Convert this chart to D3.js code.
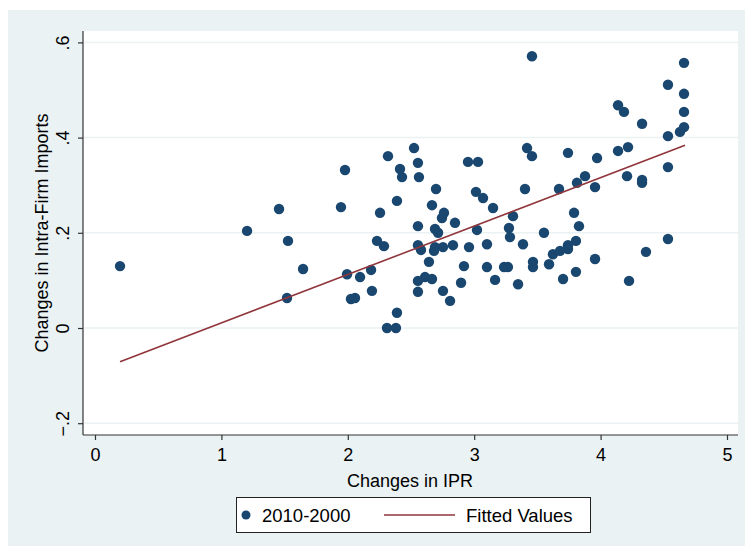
<!DOCTYPE html>
<meta charset="utf-8">
<script type="text/javascript" src="https://d3js.org/d3.v7.min.js"></script>
<style>
body { margin: 0; background: #fff; }
text {
  font-family: "Liberation Sans", Arial, sans-serif;
  fill: #000;
}
.grid line { stroke: #eaf2f3; stroke-width: 1.5px; }
</style>
<body>
<script>

// scatter: changes in IPR (x) vs changes in intra-firm imports (y), 2010-2000
var ipr = [0.198, 1.203, 1.456, 1.527, 1.519, 1.646, 1.978, 1.946, 2.255, 2.389,
  2.231, 2.286, 1.994, 2.097, 2.184, 2.025, 2.057, 2.191, 2.389, 2.310,
  2.381, 2.318, 2.524, 2.555, 2.413, 2.429, 2.563, 2.951, 3.030, 2.698,
  3.014, 3.070, 3.149, 2.666, 2.761, 2.745, 2.848, 2.555, 2.690, 2.714,
  3.022, 2.555, 2.579, 2.690, 2.753, 2.682, 2.832, 2.959, 3.101, 2.642,
  2.919, 3.101, 3.165, 3.236, 2.555, 2.611, 2.666, 2.555, 2.753, 2.809,
  2.896, 3.418, 3.457, 3.742, 3.972, 4.138, 4.217, 4.138, 4.185, 3.402,
  3.671, 3.813, 3.877, 3.956, 3.307, 3.275, 3.283, 3.552, 3.386, 3.790,
  3.829, 3.805, 3.742, 3.742, 3.623, 3.679, 3.465, 3.465, 3.267, 3.592,
  3.956, 3.347, 3.703, 3.805, 4.225, 4.359, 4.533, 3.457, 4.660, 4.533,
  4.660, 4.660, 4.328, 4.660, 4.628, 4.533, 4.209, 4.328, 4.328, 4.533];

var imports = [0.130, 0.204, 0.250, 0.183, 0.063, 0.124, 0.332, 0.254, 0.242, 0.267,
  0.183, 0.172, 0.113, 0.107, 0.122, 0.061, 0.063, 0.078, 0.032, 0.000,
  0.000, 0.361, 0.378, 0.347, 0.334, 0.317, 0.317, 0.349, 0.349, 0.292,
  0.286, 0.273, 0.252, 0.258, 0.242, 0.231, 0.221, 0.214, 0.208, 0.200,
  0.206, 0.174, 0.164, 0.170, 0.170, 0.162, 0.174, 0.170, 0.176, 0.139,
  0.130, 0.128, 0.101, 0.128, 0.099, 0.107, 0.103, 0.076, 0.078, 0.057,
  0.095, 0.378, 0.361, 0.368, 0.357, 0.372, 0.380, 0.468, 0.454, 0.292,
  0.292, 0.305, 0.319, 0.296, 0.235, 0.210, 0.191, 0.200, 0.176, 0.242,
  0.214, 0.183, 0.174, 0.166, 0.155, 0.162, 0.139, 0.128, 0.128, 0.134,
  0.145, 0.092, 0.103, 0.118, 0.099, 0.160, 0.187, 0.571, 0.557, 0.511,
  0.492, 0.454, 0.429, 0.422, 0.412, 0.403, 0.319, 0.311, 0.305, 0.338];

// fitted line end points
var fitX = [0.198, 4.668];
var fitY = [-0.071, 0.384];

var xTicks = [0, 1, 2, 3, 4, 5];
var yTicks = [-0.2, 0, 0.2, 0.4, 0.6];

var width = 747,
    height = 549;

var svg = d3.select("body").append("svg")
    .attr("width", width)
    .attr("height", height);

// graph region
svg.append("rect")
    .attr("x", 8).attr("y", 10)
    .attr("width", 737).attr("height", 536)
    .style("fill", "#eaf2f3");

// plot region
var plotLeft = 83, plotRight = 738, plotTop = 31, plotBottom = 435;
svg.append("rect")
    .attr("x", plotLeft).attr("y", plotTop)
    .attr("width", plotRight - plotLeft).attr("height", plotBottom - plotTop)
    .style("fill", "#fff");

var x = d3.scaleLinear().domain([0, 5]).range([95, 727]);
var y = d3.scaleLinear().domain([-0.2, 0.6]).range([423.2, 42.4]);

// horizontal grid
svg.append("g")
    .attr("class", "grid")
    .selectAll("line")
    .data(yTicks)
    .enter().append("line")
    .attr("x1", plotLeft + 1).attr("x2", plotRight)
    .attr("y1", function(d) { return y(d); })
    .attr("y2", function(d) { return y(d); });

function fmt(d) {
  if (d == 0) return "0";
  return d3.format(".1f")(d).replace("0.", ".");
}

// y axis
var yAxis = svg.append("g")
    .attr("transform", "translate(" + plotLeft + ",0)")
    .call(d3.axisLeft(y).tickValues(yTicks).tickSize(5).tickFormat(fmt));
yAxis.select(".domain").attr("d", "M0," + plotTop + "V" + plotBottom);
yAxis.selectAll("line, .domain").style("stroke", "#333").style("stroke-width", "1.2px");
yAxis.selectAll("text")
    .style("font-size", "18px")
    .attr("x", -14)
    .attr("y", 0)
    .attr("dy", "0")
    .attr("transform", "rotate(-90,-14,0)")
    .style("text-anchor", "middle");

// x axis
var xAxis = svg.append("g")
    .attr("transform", "translate(0," + plotBottom + ")")
    .call(d3.axisBottom(x).tickValues(xTicks).tickSize(5).tickFormat(d3.format("d")));
xAxis.select(".domain").attr("d", "M" + plotLeft + ",0H" + plotRight);
xAxis.selectAll("line, .domain").style("stroke", "#333").style("stroke-width", "1.2px");
xAxis.selectAll("text")
    .style("font-size", "18px")
    .attr("y", 13);

// axis titles
svg.append("text")
    .attr("x", 410).attr("y", 487)
    .style("font-size", "18px")
    .style("text-anchor", "middle")
    .text("Changes in IPR");

svg.append("text")
    .attr("transform", "translate(48,233) rotate(-90)")
    .style("font-size", "18px")
    .style("text-anchor", "middle")
    .text("Changes in Intra-Firm Imports");

// points
var pts = ipr.map(function(d, i) { return {x: d, y: imports[i]}; });
svg.append("g")
    .selectAll("circle")
    .data(pts)
    .enter().append("circle")
    .attr("cx", function(d) { return x(d.x); })
    .attr("cy", function(d) { return y(d.y); })
    .attr("r", 5.2)
    .style("fill", "#1a476f");

// fitted values
var line = d3.line()
    .x(function(d) { return x(d[0]); })
    .y(function(d) { return y(d[1]); });
svg.append("path")
    .attr("d", line(fitX.map(function(d, i) { return [d, fitY[i]]; })))
    .style("fill", "none")
    .style("stroke", "#90353b")
    .style("stroke-width", "1.6px");

// legend
var lg = svg.append("g");
lg.append("rect")
    .attr("x", 236.5).attr("y", 497.5)
    .attr("width", 354).attr("height", 35)
    .style("fill", "#fff")
    .style("stroke", "#222")
    .style("stroke-width", "1px");
lg.append("circle")
    .attr("cx", 246).attr("cy", 515).attr("r", 4.5)
    .style("fill", "#1a476f");
lg.append("text")
    .attr("x", 262).attr("y", 521.5)
    .style("font-size", "18.5px")
    .text("2010-2000");
lg.append("line")
    .attr("x1", 384).attr("x2", 455)
    .attr("y1", 515).attr("y2", 515)
    .style("stroke", "#90353b")
    .style("stroke-width", "1.6px");
lg.append("text")
    .attr("x", 466).attr("y", 521.5)
    .style("font-size", "18.5px")
    .text("Fitted Values");

</script>
</body>
</html>
